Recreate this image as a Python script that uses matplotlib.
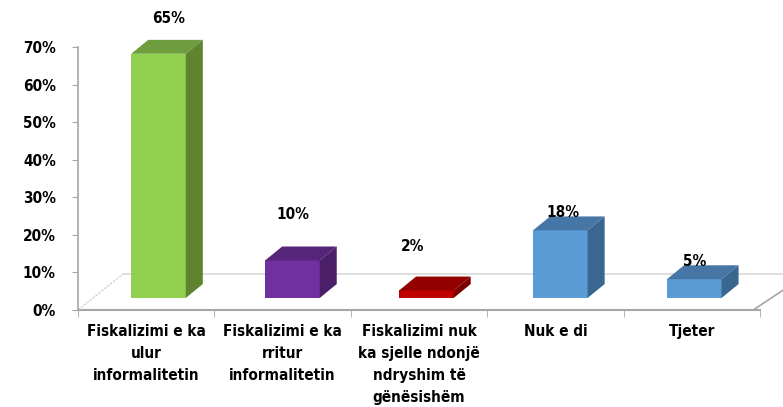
import matplotlib
matplotlib.use("Agg")
import matplotlib.pyplot as plt
from matplotlib.patches import Polygon

# te dhenat
categories = ["Fiskalizimi e ka\nulur\ninformalitetin",
              "Fiskalizimi e ka\nrritur\ninformalitetin",
              "Fiskalizimi nuk\nka sjelle ndonjë\nndryshim të\ngënësishëm",
              "Nuk e di",
              "Tjeter"]
values = [65, 10, 2, 18, 5]
value_labels = ["65%", "10%", "2%", "18%", "5%"]
yticks = [0, 10, 20, 30, 40, 50, 60, 70]
ytick_labels = ["0%", "10%", "20%", "30%", "40%", "50%", "60%", "70%"]

# ngjyrat: para, lart, anash
front_colors = ["#92d050", "#7030a0", "#c00000", "#5b9bd5", "#5b9bd5"]
top_colors = ["#6f9c3c", "#55257a", "#930000", "#4676a6", "#4676a6"]
side_colors = ["#5e8430", "#4a1f68", "#7d0000", "#3a6690", "#3a6690"]

plt.rcParams["font.family"] = "DejaVu Sans"
plt.rcParams["font.stretch"] = "condensed"

# gjeometria e efektit 3D (ne njesi te akseve)
bar_w = 0.40
base = 3.2        # bazamenti i kolones
dx, dy = 0.125, 3.7
floor_back = 9.6
label_off = [(7, 12.5), (0, 15.5), (-10, 15.0), (2, 8.0), (0, 8.0)]  # (pt ne x, % ne y)
fs = 11

fig = plt.figure(figsize=(7.83, 4.07), dpi=100)
ax = fig.add_axes([78 / 783, 1 - 310 / 407, 682 / 783, 263 / 407])
ax.set_xlim(-0.5, 4.5)
ax.set_ylim(0, 70)

# dyshemeja
ax.plot([-0.5, -0.17], [0, floor_back], color="#d0d0d0", lw=0.9, ls=(0, (2, 1)), clip_on=False)
ax.plot([-0.17, 4.72], [floor_back, floor_back], color="#d9d9d9", lw=1.2, clip_on=False)
ax.plot([4.45, 4.72], [0, 6.5], color="#a6a6a6", lw=1.2, clip_on=False)

pos = [i + 0.09 - 0.018 * i for i in range(len(values))]
ax.bar(pos, values, width=bar_w, bottom=base, color=front_colors, zorder=3)
for i, v in enumerate(values):
    x0 = pos[i] - bar_w / 2
    x1 = pos[i] + bar_w / 2
    top = base + v
    ax.add_patch(Polygon([(x0, top), (x0 + dx, top + dy), (x1 + dx, top + dy), (x1, top)],
                         closed=True, facecolor=top_colors[i], edgecolor="none", zorder=3, clip_on=False))
    ax.add_patch(Polygon([(x1, base), (x1 + dx, base + dy), (x1 + dx, top + dy), (x1, top)],
                         closed=True, facecolor=side_colors[i], edgecolor="none", zorder=3, clip_on=False))
    ax.annotate(value_labels[i], (pos[i], v + label_off[i][1]), xytext=(label_off[i][0], 0),
                textcoords="offset points", ha="center", va="center",
                fontsize=fs, fontweight="bold", zorder=5, annotation_clip=False)

for s in ["top", "right"]:
    ax.spines[s].set_visible(False)
ax.spines["left"].set_color("#a6a6a6")
ax.spines["bottom"].set_color("#a6a6a6")
ax.spines["left"].set_linewidth(1.2)
ax.spines["bottom"].set_linewidth(1.5)

ax.set_yticks(yticks)
ax.set_yticklabels(ytick_labels, fontsize=fs, fontweight="bold")
ax.tick_params(axis="y", length=4, color="#a6a6a6", pad=12)

ax.set_xticks(range(len(categories)))
ax.set_xticklabels(categories, fontsize=fs, fontweight="bold", linespacing=1.58, va="top")
ax.tick_params(axis="x", which="major", length=0, pad=10)
ax.set_xticks([i - 0.5 for i in range(len(categories) + 1)], minor=True)
ax.tick_params(axis="x", which="minor", length=5, color="#a6a6a6")

fig.savefig("out.png", dpi=100)
